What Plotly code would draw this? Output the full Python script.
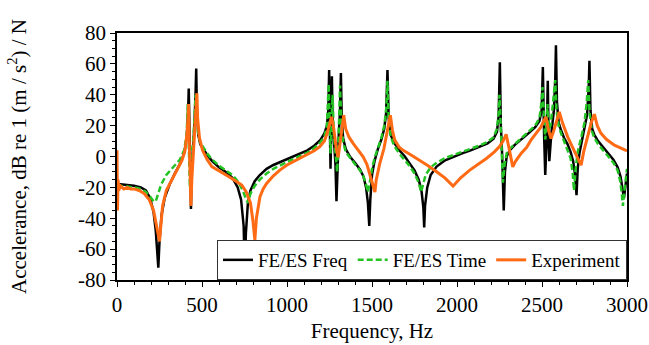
import plotly.graph_objects as go

# ---- FE/ES Freq (black) ----
freq_fe_hz = [0, 20, 60, 100, 140, 170, 195, 215, 228, 238, 243, 250, 262, 280, 310, 340, 370, 395, 410, 418,
              422, 426, 430, 435, 440, 448, 456, 462, 466, 470, 478, 490, 505, 530, 560, 600, 640, 680, 710, 730,
              745, 752, 758, 770, 785, 810, 840, 880, 920, 970, 1020, 1070, 1120, 1160, 1195, 1220, 1235, 1243, 1248, 1252,
              1256, 1260, 1264, 1268, 1275, 1285, 1291, 1297, 1305, 1312, 1317, 1322, 1330, 1345, 1370, 1400, 1430, 1450, 1465, 1476,
              1484, 1490, 1500, 1515, 1535, 1555, 1572, 1583, 1591, 1598, 1610, 1630, 1660, 1690, 1720, 1750, 1775, 1792, 1802, 1807,
              1812, 1825, 1845, 1880, 1930, 1980, 2030, 2080, 2130, 2180, 2215, 2235, 2245, 2252, 2258, 2266, 2275, 2282, 2292, 2310,
              2340, 2380, 2420, 2460, 2485, 2498, 2505, 2512, 2519, 2527, 2534, 2539, 2543, 2555, 2570, 2578, 2582, 2588, 2598, 2612,
              2630, 2650, 2668, 2683, 2695, 2703, 2710, 2720, 2735, 2750, 2765, 2775, 2779, 2785, 2795, 2808, 2830, 2860, 2890, 2920,
              2945, 2962, 2975, 2982, 2990, 3000]
freq_fe_db = [-18, -18, -18.5, -19, -20, -22, -27, -36, -48, -64, -72, -55, -38, -27, -18, -11, -5, 2, 12, 28,
              44, 20, -5, -34, -10, 5, 22, 40, 57, 30, 14, 8, 5, 1, -3, -7, -10, -14, -20, -28,
              -45, -75, -50, -30, -22, -16, -12, -8, -5.5, -3, -1, 1.5, 4, 7, 10.5, 15, 20, 30, 56, 20,
              -8, 15, 52, 25, 10, -5, -29, -5, 15, 30, 54, 25, 12, 5, 0, -4, -8.5, -13, -20, -30,
              -45, -28, -12, -3, 5, 11, 18, 28, 56, 25, 14, 9, 4, 0.5, -4, -9, -15, -23, -33, -46,
              -32, -20, -12, -6.5, -2.5, 0, 2, 4, 6, 8.5, 11.5, 16, 26, 61, 20, 0, -35, -10, 0, 4,
              7.5, 11, 15, 19, 23, 30, 58, 15, -12, 10, 49, 10, -3, 15, 30, 50, 72, 35, 22, 17,
              12, 8, 3, -3, -12, -25, -8, 2, 10, 17, 27, 45, 62, 30, 18, 14, 10, 6, 2, -2,
              -7, -13, -22, -27, -20, -11]

# ---- FE/ES Time (green dashed) ----
time_fe_hz = [0, 20, 60, 100, 140, 170, 195, 215, 228, 240, 260, 290, 330, 370, 395, 410, 416, 422, 429, 436,
              448, 456, 462, 468, 478, 490, 505, 530, 560, 600, 640, 680, 710, 740, 760, 772, 785, 810, 840, 880,
              920, 970, 1020, 1070, 1120, 1160, 1195, 1220, 1235, 1245, 1250, 1256, 1262, 1268, 1275, 1287, 1295, 1303, 1312, 1320,
              1330, 1345, 1370, 1400, 1430, 1450, 1465, 1475, 1485, 1500, 1515, 1535, 1555, 1572, 1583, 1591, 1598, 1610, 1630, 1660,
              1690, 1720, 1750, 1775, 1789, 1800, 1815, 1845, 1880, 1930, 1980, 2030, 2080, 2130, 2180, 2215, 2235, 2245, 2250, 2256,
              2263, 2270, 2280, 2292, 2310, 2340, 2380, 2420, 2460, 2485, 2497, 2503, 2510, 2519, 2527, 2532, 2540, 2550, 2565, 2573,
              2578, 2585, 2598, 2612, 2630, 2650, 2668, 2680, 2688, 2698, 2710, 2730, 2750, 2763, 2772, 2780, 2795, 2808, 2830, 2860,
              2890, 2920, 2945, 2960, 2970, 2976, 2985, 3000]
time_fe_db = [-19, -19, -19.5, -20, -21, -23, -26, -29, -29, -25, -18, -12, -7, -2, 4, 14, 34, 15, -20, -2,
              10, 25, 40, 28, 15, 9, 6, 2, -2, -6, -9, -12, -16, -22, -28, -30, -24, -19, -15, -11,
              -8, -5, -2.5, 0, 2.5, 5.5, 9, 13, 20, 47, 25, 2, 20, 40, 15, 0, -10, 10, 46, 20,
              10, 3, -1, -5, -9, -13, -18, -23, -18, -8, -1, 6, 12, 20, 30, 49, 25, 13, 7, 2,
              -2, -6, -11, -17, -23, -18, -12, -7, -4, -1, 1, 3, 5, 7, 9.5, 12.5, 18, 28, 40, 20,
              0, -17, -5, 2, 5, 8, 11.5, 15.5, 20, 25, 35, 45, 25, 11, 20, 34, 18, 20, 35, 45,
              49.5, 30, 20, 15, 10, 5, -1, -10, -22, -8, 3, 12, 22, 35, 49.5, 28, 16, 12, 8, 4,
              0, -4, -9, -16, -25, -32, -22, -8]

# ---- Experiment (orange) ----
exp_hz = [0, 3, 6, 10, 20, 40, 60, 80, 100, 130, 160, 190, 215, 235, 245, 250, 256, 268, 290, 323,
          350, 382, 400, 412, 418, 421, 425, 430, 435, 440, 450, 460, 466, 470, 474, 485, 503, 530, 558, 600,
          656, 700, 734, 760, 785, 800, 811, 820, 841, 860, 880, 920, 958, 1000, 1036, 1075, 1115, 1160, 1193, 1220,
          1236, 1250, 1262, 1275, 1290, 1301, 1312, 1325, 1334, 1345, 1365, 1390, 1420, 1448, 1470, 1490, 1505, 1517, 1525, 1546,
          1570, 1585, 1600, 1608, 1620, 1634, 1660, 1683, 1730, 1781, 1830, 1880, 1930, 1977, 2020, 2075, 2125, 2173, 2220, 2250,
          2271, 2289, 2305, 2320, 2328, 2345, 2377, 2410, 2435, 2465, 2494, 2510, 2523, 2538, 2553, 2570, 2590, 2602, 2620, 2651,
          2675, 2697, 2715, 2730, 2745, 2769, 2790, 2808, 2825, 2847, 2880, 2926, 2960, 3000]
exp_db = [4, -35, -15, -22, -19, -21, -20, -21, -21, -22, -24, -28, -35, -45, -52, -55, -45, -32, -22, -15,
          -9, -2.5, 4, 15, 25, 34, 10, -15, -32, -15, 5, 20, 35, 41, 25, 12, 4, -2, -6.5, -9.5,
          -13, -16, -18.5, -23, -30, -42, -54, -40, -26, -21, -17.5, -12.5, -8.8, -5.5, -3.4, -1.2, 1, 3.7, 6.3, 10,
          15, 21, 25.7, 18, 5, -0.5, 10, 22, 26.8, 18, 12.5, 8.4, 4, -0.2, -5, -12, -18, -23, -15, -4.5,
          5, 12.7, 22, 26.8, 17, 10.6, 6, 4, 1, -2.4, -6, -9.9, -14, -19.2, -14, -8.8, -5, -1.3, 3, 6.5,
          10, 14.4, 6, -3, -6.7, -3, 2, 6, 10.6, 15, 19.2, 23, 25.7, 17, 11.7, 17, 25, 28.9, 22, 12.7,
          7, 2, -2, -5.6, 3, 12.7, 22, 27.4, 20, 15, 11, 7.3, 5.5, 3.7]

x_ticks = [0, 500, 1000, 1500, 2000, 2500, 3000]
y_ticks = [-80, -60, -40, -20, 0, 20, 40, 60, 80]
y_tick_text = [str(v) for v in y_ticks]

FONT = "Liberation Serif"

fig = go.Figure()
fig.add_trace(go.Scatter(x=freq_fe_hz, y=freq_fe_db, mode="lines", name="FE/ES Freq",
                         line=dict(color="#000000", width=2.5)))
fig.add_trace(go.Scatter(x=time_fe_hz, y=time_fe_db, mode="lines", name="FE/ES Time",
                         line=dict(color="#22c322", width=2.5, dash="6px,3px")))
fig.add_trace(go.Scatter(x=exp_hz, y=exp_db, mode="lines", name="Experiment",
                         line=dict(color="#ff6a14", width=3)))

axis_common = dict(showgrid=False, zeroline=False, showline=True, linecolor="black", linewidth=1.5,
                   mirror=True, ticks="outside", ticklen=5, tickwidth=1, tickcolor="black",
                   automargin=False,
                   tickfont=dict(family=FONT, size=21, color="black"))

fig.update_xaxes(range=[0, 3000], tickvals=x_ticks,
                 minor=dict(dtick=100, ticks="outside", ticklen=3, tickcolor="black"),
                 title=dict(text="Frequency, Hz", font=dict(family=FONT, size=21, color="black"), standoff=7),
                 **axis_common)
fig.update_yaxes(range=[-80, 80], tickvals=y_ticks, ticktext=y_tick_text,
                 minor=dict(dtick=5, ticks="outside", ticklen=3, tickcolor="black"),
                 title=dict(text="Accelerance, dB re 1 (m / s<sup>2</sup>) / N",
                            font=dict(family=FONT, size=21, color="black"), standoff=46),
                 **axis_common)

fig.update_layout(
    width=649, height=345,
    margin=dict(l=117, r=22, t=33, b=65),
    paper_bgcolor="white", plot_bgcolor="white",
    font=dict(family=FONT, size=21, color="black"),
    legend=dict(orientation="h", x=1, xanchor="right", y=0, yanchor="bottom",
                bgcolor="white", bordercolor="#333333", borderwidth=1,
                font=dict(family=FONT, size=19, color="black"),
                itemwidth=30, tracegroupgap=0),
    showlegend=True,
)

fig.write_html("out.html")
